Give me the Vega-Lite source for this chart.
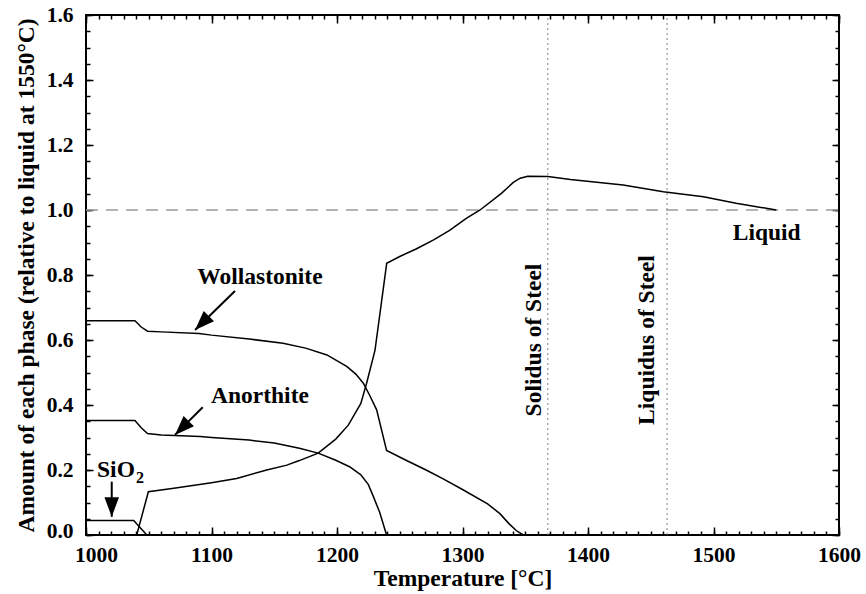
{
  "$schema": "https://vega.github.io/schema/vega-lite/v6.json",
  "width": 753,
  "height": 520,
  "autosize": {"type": "none"},
  "padding": {"left": 86, "top": 15, "right": 27, "bottom": 59},
  "background": "white",
  "config": {
    "view": {"stroke": "black", "strokeWidth": 2},
    "font": "Liberation Serif",
    "axis": {
      "labelFont": "Liberation Serif",
      "labelFontWeight": "bold",
      "labelFontSize": 21.5,
      "labelColor": "black",
      "titleFont": "Liberation Serif",
      "titleFontWeight": "bold",
      "titleFontSize": 23.5,
      "titleColor": "black",
      "tickColor": "black",
      "tickWidth": 1.5,
      "domain": false,
      "grid": false
    },
    "text": {"font": "Liberation Serif", "fontWeight": "bold", "color": "black"}
  },
  "datasets": {
    "curves": [
      {"phase": "Wollastonite", "T": 1000, "v": 0.659},
      {"phase": "Wollastonite", "T": 1039, "v": 0.659},
      {"phase": "Wollastonite", "T": 1044, "v": 0.64},
      {"phase": "Wollastonite", "T": 1049, "v": 0.627},
      {"phase": "Wollastonite", "T": 1060, "v": 0.625},
      {"phase": "Wollastonite", "T": 1090, "v": 0.62},
      {"phase": "Wollastonite", "T": 1100, "v": 0.615},
      {"phase": "Wollastonite", "T": 1130, "v": 0.603},
      {"phase": "Wollastonite", "T": 1157, "v": 0.59},
      {"phase": "Wollastonite", "T": 1175, "v": 0.575},
      {"phase": "Wollastonite", "T": 1192, "v": 0.554},
      {"phase": "Wollastonite", "T": 1208, "v": 0.518},
      {"phase": "Wollastonite", "T": 1215, "v": 0.495},
      {"phase": "Wollastonite", "T": 1221, "v": 0.467},
      {"phase": "Wollastonite", "T": 1226, "v": 0.43},
      {"phase": "Wollastonite", "T": 1231.6, "v": 0.385},
      {"phase": "Wollastonite", "T": 1239.5, "v": 0.26},
      {"phase": "Wollastonite", "T": 1255, "v": 0.23},
      {"phase": "Wollastonite", "T": 1271, "v": 0.2},
      {"phase": "Wollastonite", "T": 1285, "v": 0.172},
      {"phase": "Wollastonite", "T": 1300, "v": 0.14},
      {"phase": "Wollastonite", "T": 1320, "v": 0.096},
      {"phase": "Wollastonite", "T": 1330, "v": 0.065},
      {"phase": "Wollastonite", "T": 1337, "v": 0.035},
      {"phase": "Wollastonite", "T": 1343, "v": 0.013},
      {"phase": "Wollastonite", "T": 1348.5, "v": 0},
      {"phase": "Anorthite", "T": 1000, "v": 0.352},
      {"phase": "Anorthite", "T": 1039, "v": 0.352},
      {"phase": "Anorthite", "T": 1044, "v": 0.33},
      {"phase": "Anorthite", "T": 1049, "v": 0.312},
      {"phase": "Anorthite", "T": 1060, "v": 0.308},
      {"phase": "Anorthite", "T": 1091, "v": 0.303},
      {"phase": "Anorthite", "T": 1100, "v": 0.3},
      {"phase": "Anorthite", "T": 1130, "v": 0.292},
      {"phase": "Anorthite", "T": 1150, "v": 0.283},
      {"phase": "Anorthite", "T": 1170, "v": 0.267},
      {"phase": "Anorthite", "T": 1185, "v": 0.252},
      {"phase": "Anorthite", "T": 1199, "v": 0.23},
      {"phase": "Anorthite", "T": 1210, "v": 0.21},
      {"phase": "Anorthite", "T": 1219, "v": 0.185},
      {"phase": "Anorthite", "T": 1225, "v": 0.155},
      {"phase": "Anorthite", "T": 1229, "v": 0.118},
      {"phase": "Anorthite", "T": 1234, "v": 0.07},
      {"phase": "Anorthite", "T": 1239.5, "v": 0},
      {"phase": "SiO2", "T": 1000, "v": 0.045},
      {"phase": "SiO2", "T": 1038, "v": 0.045},
      {"phase": "SiO2", "T": 1048.5, "v": 0},
      {"phase": "Liquid", "T": 1040.4, "v": 0},
      {"phase": "Liquid", "T": 1049.7, "v": 0.133},
      {"phase": "Liquid", "T": 1070, "v": 0.144},
      {"phase": "Liquid", "T": 1100, "v": 0.161},
      {"phase": "Liquid", "T": 1120, "v": 0.174},
      {"phase": "Liquid", "T": 1144, "v": 0.2},
      {"phase": "Liquid", "T": 1160, "v": 0.215},
      {"phase": "Liquid", "T": 1170, "v": 0.229},
      {"phase": "Liquid", "T": 1185, "v": 0.252},
      {"phase": "Liquid", "T": 1199, "v": 0.295},
      {"phase": "Liquid", "T": 1209, "v": 0.338},
      {"phase": "Liquid", "T": 1219, "v": 0.405},
      {"phase": "Liquid", "T": 1223.6, "v": 0.467},
      {"phase": "Liquid", "T": 1230.3, "v": 0.569},
      {"phase": "Liquid", "T": 1239.6, "v": 0.836},
      {"phase": "Liquid", "T": 1250, "v": 0.857},
      {"phase": "Liquid", "T": 1263, "v": 0.88},
      {"phase": "Liquid", "T": 1277, "v": 0.908},
      {"phase": "Liquid", "T": 1290, "v": 0.938},
      {"phase": "Liquid", "T": 1303, "v": 0.974},
      {"phase": "Liquid", "T": 1314, "v": 1.0},
      {"phase": "Liquid", "T": 1331, "v": 1.051},
      {"phase": "Liquid", "T": 1340.5, "v": 1.085},
      {"phase": "Liquid", "T": 1346, "v": 1.098},
      {"phase": "Liquid", "T": 1352, "v": 1.104},
      {"phase": "Liquid", "T": 1368, "v": 1.103},
      {"phase": "Liquid", "T": 1386, "v": 1.094},
      {"phase": "Liquid", "T": 1428, "v": 1.077},
      {"phase": "Liquid", "T": 1460, "v": 1.056},
      {"phase": "Liquid", "T": 1492, "v": 1.041},
      {"phase": "Liquid", "T": 1518, "v": 1.021},
      {"phase": "Liquid", "T": 1550, "v": 1.0}
    ],
    "reference": [{"T0": 1000, "T1": 1600, "v": 1.0}],
    "steel": [
      {"label": "Solidus of Steel", "T": 1368, "Tl": 1362.5, "v0": 0, "v1": 1.6, "vl": 0.6},
      {"label": "Liquidus of Steel", "T": 1463, "Tl": 1452.6, "v0": 0, "v1": 1.6, "vl": 0.6}
    ],
    "names": [
      {"name": "Wollastonite", "T": 1138.6, "v": 0.795},
      {"name": "Anorthite", "T": 1138.6, "v": 0.428},
      {"name": "Liquid", "T": 1542.4, "v": 0.928}
    ],
    "arrows": [
      {"name": "Wollastonite", "T0": 1118.7, "v0": 0.751, "T1": 1086.9, "v1": 0.631},
      {"name": "Anorthite", "T0": 1093, "v0": 0.393, "T1": 1070.9, "v1": 0.308},
      {"name": "SiO2", "T0": 1020.5, "v0": 0.164, "T1": 1020.5, "v1": 0.056}
    ],
    "formula": [
      {"part": "SiO", "T": 1008.8, "v": 0.2},
      {"part": "2", "T": 1039.8, "v": 0.176}
    ]
  },
  "resolve": {"axis": {"x": "independent", "y": "independent"}},
  "layer": [
    {
      "data": {"name": "reference"},
      "mark": {"type": "rule", "stroke": "#9a9a9a", "strokeWidth": 1.5, "strokeDash": [12, 8]},
      "encoding": {
        "x": {
          "field": "T0", "type": "quantitative",
          "scale": {"domain": [1000, 1600], "nice": false, "zero": false},
          "axis": {
            "orient": "bottom", "labels": false, "title": null, "tickSize": -4,
            "values": [1000,1010,1020,1030,1040,1050,1060,1070,1080,1090,1100,1110,1120,1130,1140,1150,1160,1170,1180,1190,1200,1210,1220,1230,1240,1250,1260,1270,1280,1290,1300,1310,1320,1330,1340,1350,1360,1370,1380,1390,1400,1410,1420,1430,1440,1450,1460,1470,1480,1490,1500,1510,1520,1530,1540,1550,1560,1570,1580,1590,1600]
          }
        },
        "x2": {"field": "T1"},
        "y": {
          "field": "v", "type": "quantitative",
          "scale": {"domain": [0, 1.6], "nice": false, "zero": false},
          "axis": {
            "orient": "left", "labels": false, "title": null, "tickSize": -4,
            "values": [0,0.05,0.1,0.15,0.2,0.25,0.3,0.35,0.4,0.45,0.5,0.55,0.6,0.65,0.7,0.75,0.8,0.85,0.9,0.95,1,1.05,1.1,1.15,1.2,1.25,1.3,1.35,1.4,1.45,1.5,1.55,1.6]
          }
        }
      }
    },
    {
      "data": {"name": "steel"},
      "mark": {"type": "rule", "stroke": "#808080", "strokeWidth": 1, "strokeDash": [2, 3]},
      "encoding": {
        "x": {
          "field": "T", "type": "quantitative",
          "scale": {"domain": [1000, 1600], "nice": false, "zero": false},
          "axis": {"orient": "bottom", "labels": false, "title": null, "tickSize": -8, "values": [1000,1100,1200,1300,1400,1500,1600]}
        },
        "y": {
          "field": "v0", "type": "quantitative",
          "scale": {"domain": [0, 1.6], "nice": false, "zero": false},
          "axis": {"orient": "left", "labels": false, "title": null, "tickSize": -7, "values": [0,0.2,0.4,0.6,0.8,1,1.2,1.4,1.6]}
        },
        "y2": {"field": "v1"}
      }
    },
    {
      "data": {"name": "curves"},
      "mark": {"type": "line", "stroke": "black", "strokeWidth": 1.5},
      "encoding": {
        "x": {
          "field": "T", "type": "quantitative",
          "scale": {"domain": [1000, 1600], "nice": false, "zero": false},
          "axis": {
            "orient": "bottom", "ticks": false, "labelPadding": 9, "labelFlush": false,
            "labelOffset": {"condition": {"test": "datum.value === 1000", "value": 10}, "value": 0},
            "values": [1000,1100,1200,1300,1400,1500,1600], "format": "d",
            "title": "Temperature [°C]", "titlePadding": 1
          }
        },
        "y": {
          "field": "v", "type": "quantitative",
          "scale": {"domain": [0, 1.6], "nice": false, "zero": false},
          "axis": {
            "orient": "left", "ticks": false, "labelPadding": 13, "labelFlush": false,
            "labelOffset": {"condition": {"test": "datum.value === 0", "value": -4}, "value": 0},
            "values": [0,0.2,0.4,0.6,0.8,1,1.2,1.4,1.6], "format": ".1f",
            "title": "Amount of each phase (relative to liquid at 1550°C)", "titlePadding": 8
          }
        },
        "detail": {"field": "phase", "type": "nominal"}
      }
    },
    {
      "data": {"name": "names"},
      "mark": {"type": "text", "fontSize": 23.5, "align": "center", "baseline": "middle"},
      "encoding": {
        "x": {
          "field": "T", "type": "quantitative",
          "scale": {"domain": [1000, 1600], "nice": false, "zero": false},
          "axis": {
            "orient": "top", "labels": false, "title": null, "tickSize": -4,
            "values": [1000,1010,1020,1030,1040,1050,1060,1070,1080,1090,1100,1110,1120,1130,1140,1150,1160,1170,1180,1190,1200,1210,1220,1230,1240,1250,1260,1270,1280,1290,1300,1310,1320,1330,1340,1350,1360,1370,1380,1390,1400,1410,1420,1430,1440,1450,1460,1470,1480,1490,1500,1510,1520,1530,1540,1550,1560,1570,1580,1590,1600]
          }
        },
        "y": {
          "field": "v", "type": "quantitative",
          "scale": {"domain": [0, 1.6], "nice": false, "zero": false},
          "axis": {
            "orient": "right", "labels": false, "title": null, "tickSize": -4,
            "values": [0,0.05,0.1,0.15,0.2,0.25,0.3,0.35,0.4,0.45,0.5,0.55,0.6,0.65,0.7,0.75,0.8,0.85,0.9,0.95,1,1.05,1.1,1.15,1.2,1.25,1.3,1.35,1.4,1.45,1.5,1.55,1.6]
          }
        },
        "text": {"field": "name"}
      }
    },
    {
      "data": {"name": "arrows"},
      "mark": {"type": "rule", "stroke": "black", "strokeWidth": 2},
      "encoding": {
        "x": {
          "field": "T0", "type": "quantitative",
          "scale": {"domain": [1000, 1600], "nice": false, "zero": false},
          "axis": {"orient": "top", "labels": false, "title": null, "tickSize": -8, "values": [1000,1100,1200,1300,1400,1500,1600]}
        },
        "y": {
          "field": "v0", "type": "quantitative",
          "scale": {"domain": [0, 1.6], "nice": false, "zero": false},
          "axis": {"orient": "right", "labels": false, "title": null, "tickSize": -7, "values": [0,0.2,0.4,0.6,0.8,1,1.2,1.4,1.6]}
        },
        "x2": {"field": "T1"},
        "y2": {"field": "v1"}
      }
    },
    {
      "data": {"name": "arrows"},
      "mark": {"type": "point", "shape": "M0,0L-0.75,2L0.75,2Z", "filled": true, "fill": "black", "strokeWidth": 0, "opacity": 1, "size": 380},
      "encoding": {
        "x": {"field": "T1", "type": "quantitative", "scale": {"domain": [1000, 1600], "nice": false, "zero": false}, "axis": null},
        "y": {"field": "v1", "type": "quantitative", "scale": {"domain": [0, 1.6], "nice": false, "zero": false}, "axis": null},
        "angle": {"condition": {"test": "datum.name === 'SiO2'", "value": 180}, "value": 225}
      }
    },
    {
      "data": {"name": "steel"},
      "mark": {"type": "text", "fontSize": 23.5, "angle": 270, "align": "center", "baseline": "alphabetic"},
      "encoding": {
        "x": {"field": "Tl", "type": "quantitative", "scale": {"domain": [1000, 1600], "nice": false, "zero": false}, "axis": null},
        "y": {"field": "vl", "type": "quantitative", "scale": {"domain": [0, 1.6], "nice": false, "zero": false}, "axis": null},
        "text": {"field": "label"}
      }
    },
    {
      "data": {"name": "formula"},
      "mark": {"type": "text", "align": "left", "baseline": "middle"},
      "encoding": {
        "x": {"field": "T", "type": "quantitative", "scale": {"domain": [1000, 1600], "nice": false, "zero": false}, "axis": null},
        "y": {"field": "v", "type": "quantitative", "scale": {"domain": [0, 1.6], "nice": false, "zero": false}, "axis": null},
        "text": {"field": "part"},
        "size": {"condition": {"test": "datum.part === '2'", "value": 16}, "value": 23.5}
      }
    }
  ]
}
